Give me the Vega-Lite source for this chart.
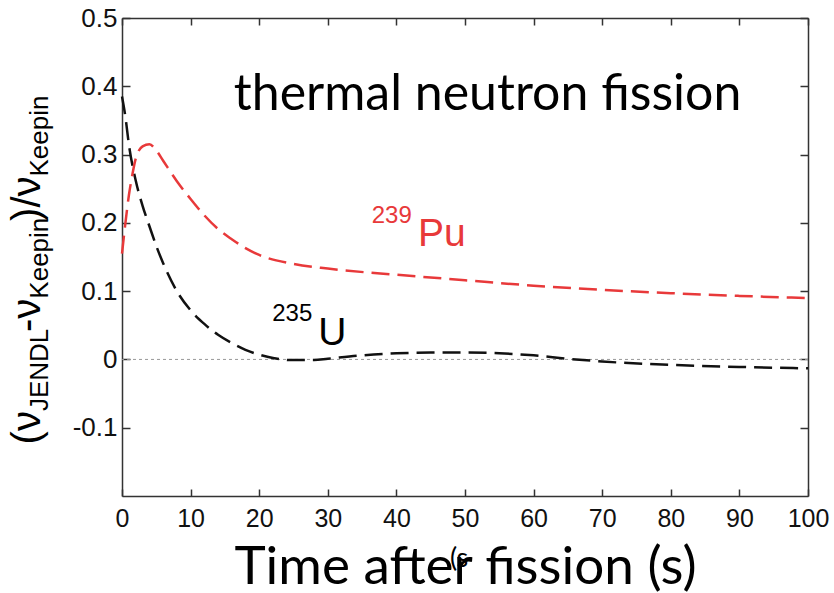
{
  "$schema": "https://vega.github.io/schema/vega-lite/v6.json",
  "width": 686,
  "height": 478,
  "autosize": {"type": "none"},
  "padding": {"left": 122, "top": 18, "right": 26, "bottom": 97},
  "background": "white",
  "config": {"view": {"stroke": null}},
  "datasets": {
    "curves": [
      {"series": "U235", "t": 0, "v": 0.385},
      {"series": "U235", "t": 0.5, "v": 0.355},
      {"series": "U235", "t": 1, "v": 0.315},
      {"series": "U235", "t": 2, "v": 0.262},
      {"series": "U235", "t": 3, "v": 0.225},
      {"series": "U235", "t": 4, "v": 0.195},
      {"series": "U235", "t": 5, "v": 0.166},
      {"series": "U235", "t": 6, "v": 0.141},
      {"series": "U235", "t": 8, "v": 0.1},
      {"series": "U235", "t": 10, "v": 0.072},
      {"series": "U235", "t": 12, "v": 0.052},
      {"series": "U235", "t": 14, "v": 0.036},
      {"series": "U235", "t": 16, "v": 0.024},
      {"series": "U235", "t": 18, "v": 0.014},
      {"series": "U235", "t": 20, "v": 0.007},
      {"series": "U235", "t": 22, "v": 0.002},
      {"series": "U235", "t": 25, "v": -0.001},
      {"series": "U235", "t": 28, "v": -0.001},
      {"series": "U235", "t": 30, "v": 0.001},
      {"series": "U235", "t": 35, "v": 0.006},
      {"series": "U235", "t": 40, "v": 0.009},
      {"series": "U235", "t": 45, "v": 0.01},
      {"series": "U235", "t": 50, "v": 0.01},
      {"series": "U235", "t": 55, "v": 0.009},
      {"series": "U235", "t": 60, "v": 0.006},
      {"series": "U235", "t": 65, "v": 0.001},
      {"series": "U235", "t": 70, "v": -0.003},
      {"series": "U235", "t": 80, "v": -0.008},
      {"series": "U235", "t": 90, "v": -0.011},
      {"series": "U235", "t": 100, "v": -0.013},
      {"series": "Pu239", "t": 0, "v": 0.155},
      {"series": "Pu239", "t": 0.5, "v": 0.2},
      {"series": "Pu239", "t": 1, "v": 0.24},
      {"series": "Pu239", "t": 1.5, "v": 0.27},
      {"series": "Pu239", "t": 2, "v": 0.294},
      {"series": "Pu239", "t": 3, "v": 0.312},
      {"series": "Pu239", "t": 4, "v": 0.315},
      {"series": "Pu239", "t": 5, "v": 0.306},
      {"series": "Pu239", "t": 6, "v": 0.291},
      {"series": "Pu239", "t": 8, "v": 0.261},
      {"series": "Pu239", "t": 10, "v": 0.235},
      {"series": "Pu239", "t": 12, "v": 0.211},
      {"series": "Pu239", "t": 14, "v": 0.191},
      {"series": "Pu239", "t": 16, "v": 0.176},
      {"series": "Pu239", "t": 18, "v": 0.163},
      {"series": "Pu239", "t": 20, "v": 0.153},
      {"series": "Pu239", "t": 25, "v": 0.14},
      {"series": "Pu239", "t": 30, "v": 0.133},
      {"series": "Pu239", "t": 40, "v": 0.124},
      {"series": "Pu239", "t": 50, "v": 0.116},
      {"series": "Pu239", "t": 60, "v": 0.108},
      {"series": "Pu239", "t": 70, "v": 0.102},
      {"series": "Pu239", "t": 80, "v": 0.097},
      {"series": "Pu239", "t": 90, "v": 0.093},
      {"series": "Pu239", "t": 100, "v": 0.09}
    ]
  },
  "layer": [
    {
      "data": {"values": [{"v": 0}]},
      "mark": {"type": "rule", "color": "#999999", "strokeWidth": 1, "strokeDash": [3, 3]},
      "encoding": {"y": {"field": "v", "type": "quantitative", "axis": null}}
    },
    {
      "data": {"name": "curves"},
      "mark": {"type": "line", "strokeWidth": 2.5, "strokeDash": [18, 8], "interpolate": "monotone"},
      "encoding": {
        "x": {
          "field": "t", "type": "quantitative",
          "scale": {"domain": [0, 100], "nice": false, "zero": false},
          "axis": {
            "orient": "bottom",
            "values": [0, 10, 20, 30, 40, 50, 60, 70, 80, 90, 100],
            "grid": false,
            "tickSize": -7, "tickColor": "#333333", "tickWidth": 1.5,
            "domainColor": "#333333", "domainWidth": 1.5,
            "labelFont": "Liberation Sans", "labelFontSize": 25, "labelColor": "#111111",
            "labelPadding": 17, "labelFlush": false,
            "title": "Time after fission (s)",
            "titleFont": "Lato", "titleFontSize": 53, "titleFontWeight": "normal",
            "titleColor": "#000000", "titlePadding": 10
          }
        },
        "y": {
          "field": "v", "type": "quantitative",
          "scale": {"domain": [-0.2, 0.5], "nice": false, "zero": false},
          "axis": {
            "orient": "left",
            "values": [-0.1, 0, 0.1, 0.2, 0.3, 0.4, 0.5],
            "grid": false,
            "tickSize": -8, "tickColor": "#333333", "tickWidth": 1.5,
            "domainColor": "#333333", "domainWidth": 1.5,
            "labelFont": "Liberation Sans", "labelFontSize": 26, "labelColor": "#111111",
            "labelPadding": 13, "labelFlush": false,
            "labelExpr": "datum.value == 0 ? '0' : replace(format(datum.value, '.1f'), '\u2212', '-')",
            "title": null
          }
        },
        "color": {
          "field": "series", "type": "nominal",
          "scale": {"domain": ["U235", "Pu239"], "range": ["#111111", "#e8393a"]},
          "legend": null
        }
      }
    },
    {
      "data": {"name": "curves"},
      "mark": {"type": "point", "opacity": 0},
      "encoding": {
        "x": {
          "field": "t", "type": "quantitative",
          "axis": {"orient": "top", "values": [0, 10, 20, 30, 40, 50, 60, 70, 80, 90, 100], "labels": false, "title": null, "grid": false,
            "tickSize": -7, "tickColor": "#333333", "tickWidth": 1.5, "domainColor": "#333333", "domainWidth": 1.5}
        },
        "y": {
          "field": "v", "type": "quantitative",
          "axis": {"orient": "right", "values": [-0.1, 0, 0.1, 0.2, 0.3, 0.4, 0.5], "labels": false, "title": null, "grid": false,
            "tickSize": -8, "tickColor": "#333333", "tickWidth": 1.5, "domainColor": "#333333", "domainWidth": 1.5}
        }
      }
    },
    {
      "data": {"values": [{"t": 16.3, "v": 0.366, "label": "thermal neutron fission"}]},
      "mark": {"type": "text", "align": "left", "baseline": "alphabetic", "font": "Lato", "fontSize": 50, "color": "#000000"},
      "encoding": {"x": {"field": "t", "type": "quantitative", "axis": null}, "y": {"field": "v", "type": "quantitative", "axis": null}, "text": {"field": "label"}}
    },
    {
      "data": {"values": [{"t": 47.8, "v": -0.3044, "label": "(s"}]},
      "mark": {"type": "text", "align": "left", "baseline": "alphabetic", "font": "Lato", "fontSize": 27, "color": "#000000"},
      "encoding": {"x": {"field": "t", "type": "quantitative", "axis": null}, "y": {"field": "v", "type": "quantitative", "axis": null}, "text": {"field": "label"}}
    },
    {
      "data": {"values": [{"t": 43.15, "v": 0.1654, "label": "Pu"}]},
      "mark": {"type": "text", "align": "left", "baseline": "alphabetic", "font": "Liberation Sans", "fontSize": 39, "color": "#e8393a"},
      "encoding": {"x": {"field": "t", "type": "quantitative", "axis": null}, "y": {"field": "v", "type": "quantitative", "axis": null}, "text": {"field": "label"}}
    },
    {
      "data": {"values": [{"t": 36.4, "v": 0.2005, "label": "239"}]},
      "mark": {"type": "text", "align": "left", "baseline": "alphabetic", "font": "Liberation Sans", "fontSize": 24, "color": "#e8393a"},
      "encoding": {"x": {"field": "t", "type": "quantitative", "axis": null}, "y": {"field": "v", "type": "quantitative", "axis": null}, "text": {"field": "label"}}
    },
    {
      "data": {"values": [{"t": 28.6, "v": 0.0205, "label": "U"}]},
      "mark": {"type": "text", "align": "left", "baseline": "alphabetic", "font": "Liberation Sans", "fontSize": 39, "color": "#000000"},
      "encoding": {"x": {"field": "t", "type": "quantitative", "axis": null}, "y": {"field": "v", "type": "quantitative", "axis": null}, "text": {"field": "label"}}
    },
    {
      "data": {"values": [{"t": 21.9, "v": 0.0556, "label": "235"}]},
      "mark": {"type": "text", "align": "left", "baseline": "alphabetic", "font": "Liberation Sans", "fontSize": 24, "color": "#000000"},
      "encoding": {"x": {"field": "t", "type": "quantitative", "axis": null}, "y": {"field": "v", "type": "quantitative", "axis": null}, "text": {"field": "label"}}
    },
    {
      "data": {"values": [
        {"t": -11.95, "v": -0.1244, "label": "(ν"},
        {"t": -11.95, "v": 0.0402, "label": "-ν"},
        {"t": -11.95, "v": 0.2028, "label": ")/ν"}
      ]},
      "mark": {"type": "text", "angle": 270, "align": "left", "baseline": "alphabetic", "font": "Liberation Sans", "fontSize": 40, "color": "#000000"},
      "encoding": {"x": {"field": "t", "type": "quantitative", "axis": null}, "y": {"field": "v", "type": "quantitative", "axis": null}, "text": {"field": "label"}}
    },
    {
      "data": {"values": [
        {"t": -10.79, "v": -0.0757, "label": "JENDL"},
        {"t": -10.79, "v": 0.089, "label": "Keepin"},
        {"t": -10.79, "v": 0.2678, "label": "Keepin"}
      ]},
      "mark": {"type": "text", "angle": 270, "align": "left", "baseline": "alphabetic", "font": "Liberation Sans", "fontSize": 26, "color": "#000000"},
      "encoding": {"x": {"field": "t", "type": "quantitative", "axis": null}, "y": {"field": "v", "type": "quantitative", "axis": null}, "text": {"field": "label"}}
    }
  ]
}
